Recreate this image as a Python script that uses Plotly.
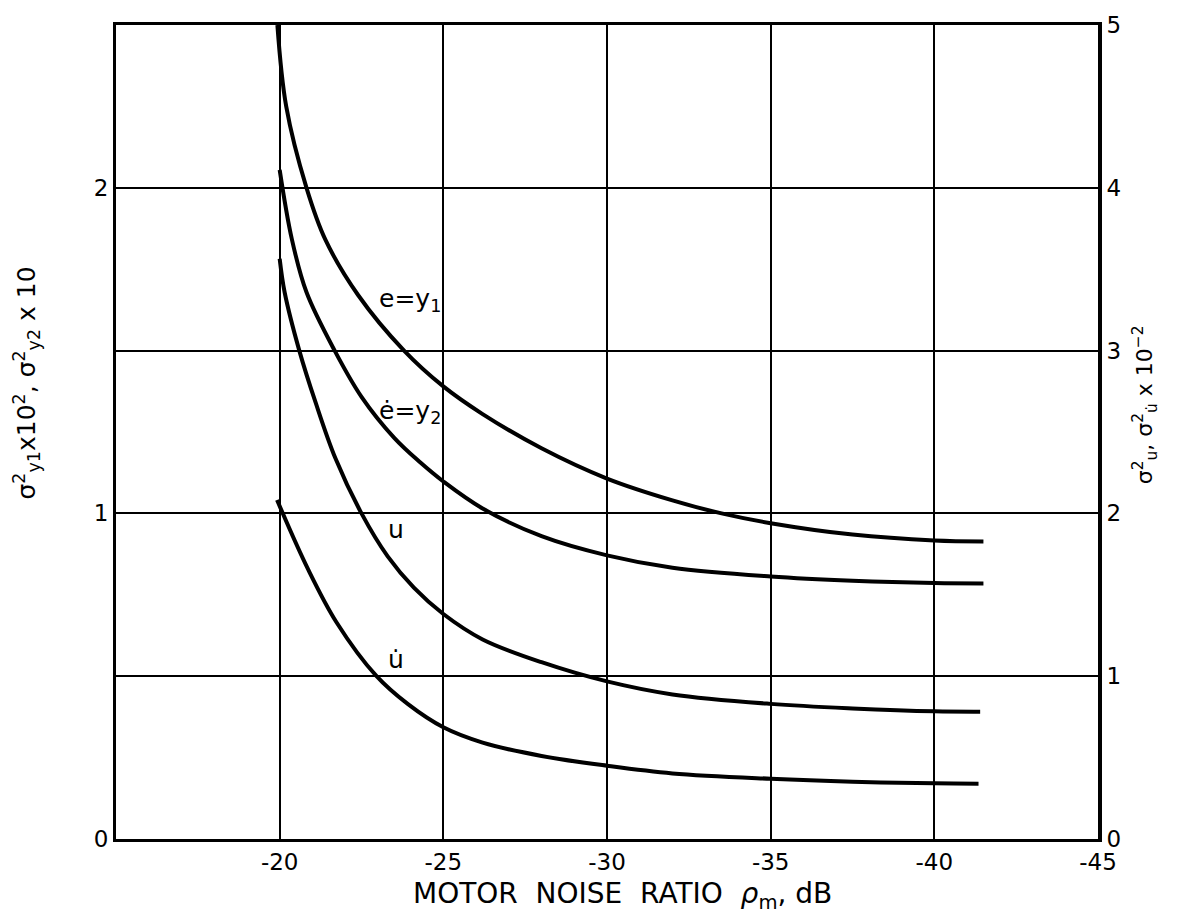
import plotly.graph_objects as go

# ---- data ----
# e = y1 (left axis units)
e_x = [-19.93, -20.2, -20.82, -21.4, -22.4, -23.8, -25, -26.2, -28, -30, -32, -33.5, -35, -37.5, -40, -41.5]
e_y = [2.5, 2.25, 2.0, 1.84, 1.67, 1.5, 1.39, 1.305, 1.2, 1.107, 1.04, 1.0, 0.97, 0.935, 0.917, 0.914]

# e-dot = y2 (left axis units)
ed_x = [-20.0, -20.37, -20.82, -21.68, -22.5, -23.5, -24.3, -25, -26.2, -28, -30, -32, -35, -37.5, -40, -41.5]
ed_y = [2.055, 1.843, 1.679, 1.5, 1.358, 1.232, 1.156, 1.098, 1.015, 0.93, 0.871, 0.833, 0.806, 0.793, 0.786, 0.785]

# u (right axis units)
u_x = [-20.0, -20.15, -20.6, -21.1, -21.7, -22.5, -23.3, -24.1, -25, -26.2, -28, -30, -32, -35, -37.5, -40, -41.4]
u_y = [3.564, 3.36, 3.0, 2.68, 2.34, 2.0, 1.736, 1.544, 1.382, 1.226, 1.086, 0.968, 0.888, 0.83, 0.802, 0.784, 0.782]

# u-dot (right axis units)
ud_x = [-19.92, -20.87, -21.74, -22.96, -23.92, -25, -26.2, -28, -30, -32, -35, -37.5, -40, -41.35]
ud_y = [2.082, 1.656, 1.33, 1.0, 0.828, 0.686, 0.592, 0.51, 0.45, 0.403, 0.37, 0.352, 0.342, 0.34]

x_tickvals = [-20, -25, -30, -35, -40, -45]
x_ticktext = ["-20", "-25", "-30", "-35", "-40", "-45"]
yl_tickvals = [0, 1, 2]
yl_ticktext = ["0", "1", "2"]
yr_tickvals = [0, 1, 2, 3, 4, 5]
yr_ticktext = ["0", "1", "2", "3", "4", "5"]

FONT = "DejaVu Sans"
LW = 4

fig = go.Figure()
line = dict(color="black", width=LW, shape="spline", smoothing=1.0)
fig.add_trace(go.Scatter(x=e_x, y=e_y, mode="lines", line=line, yaxis="y", showlegend=False))
fig.add_trace(go.Scatter(x=ed_x, y=ed_y, mode="lines", line=line, yaxis="y", showlegend=False))
fig.add_trace(go.Scatter(x=u_x, y=u_y, mode="lines", line=line, yaxis="y2", showlegend=False))
fig.add_trace(go.Scatter(x=ud_x, y=ud_y, mode="lines", line=line, yaxis="y2", showlegend=False))

fig.update_layout(
    width=1179, height=919,
    margin=dict(l=116, r=81, t=17, b=80),
    paper_bgcolor="white", plot_bgcolor="white",
    font=dict(family=FONT, color="black"),
    xaxis=dict(
        range=[-15, -45], tickvals=x_tickvals, ticktext=x_ticktext,
        showgrid=True, gridcolor="black", gridwidth=2,
        showline=True, linecolor="black", linewidth=3, mirror=True,
        zeroline=False, ticks="", tickfont=dict(size=23, family=FONT),
    ),
    yaxis=dict(
        range=[0, 2.5], tickvals=yl_tickvals, ticktext=yl_ticktext,
        showgrid=False, showline=True, linecolor="black", linewidth=3,
        zeroline=False, ticks="", tickfont=dict(size=23, family=FONT),
    ),
    yaxis2=dict(
        range=[0, 5], tickvals=yr_tickvals, ticktext=yr_ticktext,
        overlaying="y", side="right",
        showgrid=True, gridcolor="black", gridwidth=2,
        showline=True, linecolor="black", linewidth=4,
        zeroline=False, ticks="", tickfont=dict(size=23, family=FONT),
    ),
)

ann_font = dict(family=FONT, size=25, color="black")
annotations = [
    dict(x=-25.0, y=1.655, xref="x", yref="y", text="e=y<sub>1</sub>", xanchor="right", yanchor="middle", showarrow=False, font=ann_font),
    dict(x=-25.0, y=1.31, xref="x", yref="y", text="ė=y<sub>2</sub>", xanchor="right", yanchor="middle", showarrow=False, font=ann_font),
    dict(x=-23.25, y=0.95, xref="x", yref="y", text="u", xanchor="left", yanchor="middle", showarrow=False, font=ann_font),
    dict(x=-23.25, y=0.55, xref="x", yref="y", text="u̇", xanchor="left", yanchor="middle", showarrow=False, font=ann_font),
    dict(x=0.516, y=-0.069, xref="paper", yref="paper",
         text="MOTOR  NOISE  RATIO  <i>ρ</i><sub>m</sub>, dB", xanchor="center", yanchor="middle",
         showarrow=False, font=dict(family=FONT, size=28, color="black")),
    dict(x=-0.0906, y=0.5596, xref="paper", yref="paper", textangle=-90,
         text="σ<sup>2</sup><sub>y1</sub>x10<sup>2</sup>, σ<sup>2</sup><sub>y2</sub> x 10",
         xanchor="center", yanchor="middle", showarrow=False, font=dict(family=FONT, size=25, color="black")),
    dict(x=1.048, y=0.533, xref="paper", yref="paper", textangle=-90,
         text="σ<sup>2</sup><sub>u</sub>, σ<sup>2</sup><sub>u̇</sub> x 10<sup>−2</sup>",
         xanchor="center", yanchor="middle", showarrow=False, font=dict(family=FONT, size=22, color="black")),
]
fig.update_layout(annotations=annotations)

fig.write_html("out.html")
